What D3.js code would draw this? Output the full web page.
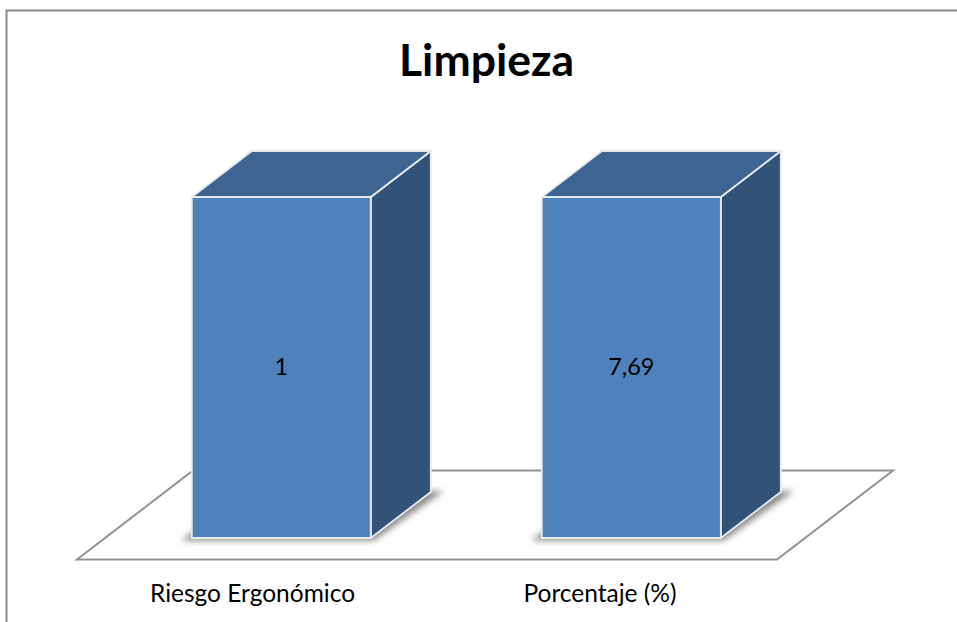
<!DOCTYPE html>
<html>
<head>
<meta charset="utf-8">
<script src="https://cdn.jsdelivr.net/npm/d3@7"></script>
<style>
html,body{margin:0;padding:0;background:#fff;overflow:hidden}
svg{display:block}
text{font-family:Lato,"Open Sans",sans-serif;fill:#000}
</style>
</head>
<body>
<svg id="c" width="957" height="622"></svg>
<script>
const titleText = "Limpieza";
const categories = ["Riesgo Ergonómico", "Porcentaje (%)"];
const dataLabels = ["1", "7,69"];
const shares = [100, 100];   // 100% columns: both reach the top

const W = 957, H = 622;
const depthX = 60, depthY = 46;
const svg = d3.select("#c");

const x = d3.scaleBand().domain(categories).range([77, 777]).paddingInner(0.4886).paddingOuter(0.2443);
const y = d3.scaleLinear().domain([0, 100]).range([538, 197]);
const floorY = 559.5, floorBackY = 470.5, floorDX = 116;
const offX = 29.3;

const defs = svg.append("defs");
defs.append("filter").attr("id", "blur").attr("x", "-20%").attr("y", "-20%").attr("width", "140%").attr("height", "140%")
  .append("feGaussianBlur").attr("stdDeviation", 3);

// frame (top and left edges only are visible)
svg.append("path").attr("d", `M6.5,${H}V10.5H${W}`).attr("fill", "none").attr("stroke", "#8a8a8a").attr("stroke-width", 2);

// floor
const [fx0, fx1] = x.range();
svg.append("path")
  .attr("d", d3.line()([[fx0, floorY], [fx1, floorY], [fx1 + floorDX, floorBackY], [fx0 + floorDX, floorBackY]]) + "Z")
  .attr("fill", "#fff").attr("stroke", "#929292").attr("stroke-width", 2).attr("stroke-linejoin", "miter");

const line = d3.line();
const g = svg.selectAll("g.bar").data(categories.map((c, i) => ({ c, v: shares[i], label: dataLabels[i] }))).join("g").attr("class", "bar");

// soft shadow under each column
g.append("path")
  .attr("d", d => {
    const l = x(d.c) + offX, r = l + x.bandwidth(), b = y(0);
    return line([[l - 11, b + 2.5], [r + 3, b + 2.5], [r + depthX + 13, b - depthY - 1], [l + depthX, b - depthY - 1]]) + "Z";
  })
  .attr("fill", "#8a8a8a").attr("filter", "url(#blur)");

const stroke = sel => sel.attr("stroke", "#e6ebf2").attr("stroke-width", 1.8).attr("stroke-linejoin", "round");

// side face
g.append("path").call(stroke).attr("fill", "#325278")
  .attr("d", d => {
    const r = x(d.c) + offX + x.bandwidth(), t = y(d.v), b = y(0);
    return line([[r, t], [r + depthX, t - depthY], [r + depthX, b - depthY], [r, b]]) + "Z";
  });
// top face
g.append("path").call(stroke).attr("fill", "#3e6491")
  .attr("d", d => {
    const l = x(d.c) + offX, r = l + x.bandwidth(), t = y(d.v);
    return line([[l, t], [r, t], [r + depthX, t - depthY], [l + depthX, t - depthY]]) + "Z";
  });
// front face
g.append("path").call(stroke).attr("fill", "#4f81bd")
  .attr("d", d => {
    const l = x(d.c) + offX, r = l + x.bandwidth(), t = y(d.v), b = y(0);
    return line([[l, t], [r, t], [r, b], [l, b]]) + "Z";
  });

// value labels
g.append("text")
  .attr("x", d => x(d.c) + offX + x.bandwidth() / 2)
  .attr("y", (y(0) + y(100)) / 2 + 7.5)
  .attr("text-anchor", "middle").attr("font-size", 23.5)
  .text(d => d.label);

// category labels
g.append("text")
  .attr("x", (d, i) => x(d.c) + x.bandwidth() / 2 + (i ? -2 : 0.5))
  .attr("y", 602)
  .attr("text-anchor", "middle").attr("font-size", 24.5)
  .text(d => d.c);

// title
svg.append("text").attr("x", 486.5).attr("y", 76).attr("text-anchor", "middle")
  .attr("font-size", 44.5).attr("font-weight", 700).text(titleText);
</script>
</body>
</html>
